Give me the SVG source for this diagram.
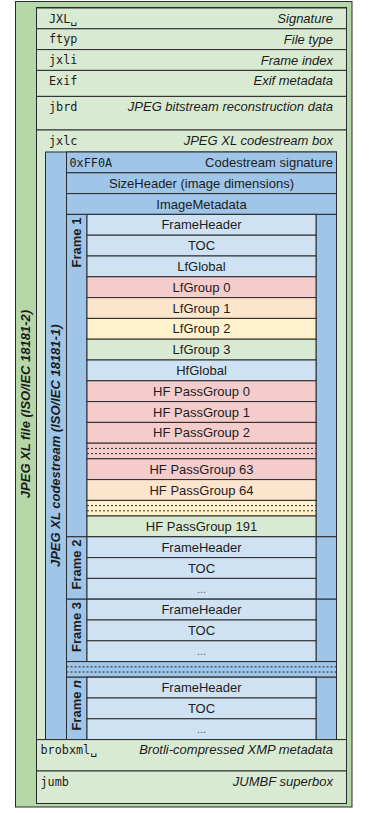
<svg xmlns="http://www.w3.org/2000/svg" width="374" height="814" viewBox="0 0 374 814">
<style>
.ln{stroke:#2a2a2a;stroke-width:1}
.g2{fill:#b6d7a8}
.g3{fill:#d9ead3}
.b2{fill:#9fc5e8}
.b3{fill:#cfe2f3}
.r3{fill:#f4cccc}
.o3{fill:#fce5cd}
.y3{fill:#fff2cc}
.dot{stroke:#2a2a2a;stroke-width:1;stroke-dasharray:2,2;fill:none}
text{fill:#1c1c1c}
.m{font-family:"DejaVu Sans Mono","Liberation Mono",monospace;font-size:11.8px}
.i{font-family:"Liberation Sans",Arial,sans-serif;font-size:13px;font-style:italic;text-anchor:end}
.c{font-family:"Liberation Sans",Arial,sans-serif;font-size:13px;text-anchor:middle}
.r{font-family:"Liberation Sans",Arial,sans-serif;font-size:13px;text-anchor:end}
.bi{font-family:"Liberation Sans",Arial,sans-serif;font-size:13px;font-weight:bold;font-style:italic;text-anchor:middle}
.fl{font-family:"Liberation Sans",Arial,sans-serif;font-size:13px;font-weight:bold;text-anchor:end}
.dd{font-family:"Liberation Sans",Arial,sans-serif;font-size:11px;text-anchor:middle;fill:#555}
</style>
<g id="file">
<rect class="g2 ln" x="15.5" y="1.5" width="336.5" height="805.5"/>
<rect class="g3 ln" x="36.5" y="7.5" width="310" height="796"/>
<text class="bi" transform="translate(30.2,404) rotate(-90)">JPEG XL file (ISO/IEC 18181-2)</text>
</g>
<g id="box-jxl">
<rect class="g3 ln" x="36.5" y="8" width="310" height="20.8"/>
<text class="m" x="49" y="22.5">JXL␣</text>
<text class="i" x="333" y="23">Signature</text>
</g>
<g id="box-ftyp">
<rect class="g3 ln" x="36.5" y="28.8" width="310" height="20.8"/>
<text class="m" x="49" y="43.3">ftyp</text>
<text class="i" x="333" y="43.8">File type</text>
</g>
<g id="box-jxli">
<rect class="g3 ln" x="36.5" y="49.6" width="310" height="20.8"/>
<text class="m" x="49" y="64.1">jxli</text>
<text class="i" x="333" y="64.6">Frame index</text>
</g>
<g id="box-exif">
<rect class="g3 ln" x="36.5" y="70.4" width="310" height="26"/>
<text class="m" x="49" y="84.9">Exif</text>
<text class="i" x="333" y="85.4">Exif metadata</text>
</g>
<g id="box-jbrd">
<rect class="g3 ln" x="36.5" y="96.4" width="310" height="33.6"/>
<text class="m" x="49" y="110.9">jbrd</text>
<text class="i" x="333" y="111.4">JPEG bitstream reconstruction data</text>
</g>
<g id="box-jxlc">
<rect class="g3 ln" x="36.5" y="130" width="310" height="609.6"/>
<text class="m" x="49" y="144.5">jxlc</text>
<text class="i" x="333" y="145">JPEG XL codestream box</text>
</g>
<g id="codestream">
<rect class="b2 ln" x="45.5" y="152" width="291" height="587.6"/>
<text class="bi" transform="translate(60.2,445.8) rotate(-90)">JPEG XL codestream (ISO/IEC 18181-1)</text>
</g>
<g id="cs-signature">
<rect class="b2 ln" x="66.5" y="152" width="270" height="20.8"/>
<text class="m" x="69.5" y="166.7">0xFF0A</text>
<text class="r" x="333" y="167">Codestream signature</text>
</g>
<g id="size-header">
<rect class="b2 ln" x="66.5" y="172.8" width="270" height="20.8"/>
<text class="c" x="201.5" y="187.8">SizeHeader (image dimensions)</text>
</g>
<g id="image-metadata">
<rect class="b2 ln" x="66.5" y="193.6" width="270" height="20.8"/>
<text class="c" x="201.5" y="208.6">ImageMetadata</text>
</g>
<g id="frame-1">
<rect class="b2 ln" x="66.5" y="214.4" width="270" height="322.4"/>
<line class="ln" x1="87" y1="214.4" x2="87" y2="536.8"/>
<line class="ln" x1="316" y1="214.4" x2="316" y2="536.8"/>
<text class="fl" transform="translate(81.2,217.6) rotate(-90)">Frame 1</text>
<rect class="b3 ln" x="87" y="214.4" width="229" height="20.8"/><text class="c" x="201.5" y="229.4">FrameHeader</text>
<rect class="b3 ln" x="87" y="235.2" width="229" height="20.8"/><text class="c" x="201.5" y="250.2">TOC</text>
<rect class="b3 ln" x="87" y="256" width="229" height="20.8"/><text class="c" x="201.5" y="271">LfGlobal</text>
<rect class="r3 ln" x="87" y="276.8" width="229" height="20.8"/><text class="c" x="201.5" y="291.8">LfGroup 0</text>
<rect class="o3 ln" x="87" y="297.6" width="229" height="20.8"/><text class="c" x="201.5" y="312.6">LfGroup 1</text>
<rect class="y3 ln" x="87" y="318.4" width="229" height="20.8"/><text class="c" x="201.5" y="333.4">LfGroup 2</text>
<rect class="g3 ln" x="87" y="339.2" width="229" height="20.8"/><text class="c" x="201.5" y="354.2">LfGroup 3</text>
<rect class="b3 ln" x="87" y="360" width="229" height="20.8"/><text class="c" x="201.5" y="375">HfGlobal</text>
<rect class="r3 ln" x="87" y="380.8" width="229" height="20.8"/><text class="c" x="201.5" y="395.8">HF PassGroup 0</text>
<rect class="r3 ln" x="87" y="401.6" width="229" height="20.8"/><text class="c" x="201.5" y="416.6">HF PassGroup 1</text>
<rect class="r3 ln" x="87" y="422.4" width="229" height="20.8"/><text class="c" x="201.5" y="437.4">HF PassGroup 2</text>
<rect class="r3 ln" x="87" y="443.2" width="229" height="15.6"/>
<line class="dot" x1="87" y1="448.4" x2="316" y2="448.4"/>
<line class="dot" x1="87" y1="453.6" x2="316" y2="453.6"/>
<rect class="r3 ln" x="87" y="458.8" width="229" height="20.8"/><text class="c" x="201.5" y="473.8">HF PassGroup 63</text>
<rect class="o3 ln" x="87" y="479.6" width="229" height="20.8"/><text class="c" x="201.5" y="494.6">HF PassGroup 64</text>
<rect class="y3 ln" x="87" y="500.4" width="229" height="15.6"/>
<line class="dot" x1="87" y1="505.6" x2="316" y2="505.6"/>
<line class="dot" x1="87" y1="510.8" x2="316" y2="510.8"/>
<rect class="g3 ln" x="87" y="516" width="229" height="20.8"/><text class="c" x="201.5" y="531">HF PassGroup 191</text>
</g>
<g id="frame-2">
<rect class="b2 ln" x="66.5" y="536.8" width="270" height="62.4"/>
<line class="ln" x1="87" y1="536.8" x2="87" y2="599.2"/>
<line class="ln" x1="316" y1="536.8" x2="316" y2="599.2"/>
<text class="fl" transform="translate(81.2,539.6) rotate(-90)">Frame 2</text>
<rect class="b3 ln" x="87" y="536.8" width="229" height="20.8"/><text class="c" x="201.5" y="551.8">FrameHeader</text>
<rect class="b3 ln" x="87" y="557.6" width="229" height="20.8"/><text class="c" x="201.5" y="572.6">TOC</text>
<rect class="b3 ln" x="87" y="578.4" width="229" height="20.8"/><text class="dd" x="201.5" y="593">...</text>
</g>
<g id="frame-3">
<rect class="b2 ln" x="66.5" y="599.2" width="270" height="62.4"/>
<line class="ln" x1="87" y1="599.2" x2="87" y2="661.6"/>
<line class="ln" x1="316" y1="599.2" x2="316" y2="661.6"/>
<text class="fl" transform="translate(81.2,602) rotate(-90)">Frame 3</text>
<rect class="b3 ln" x="87" y="599.2" width="229" height="20.8"/><text class="c" x="201.5" y="614.2">FrameHeader</text>
<rect class="b3 ln" x="87" y="620" width="229" height="20.8"/><text class="c" x="201.5" y="635">TOC</text>
<rect class="b3 ln" x="87" y="640.8" width="229" height="20.8"/><text class="dd" x="201.5" y="655.4">...</text>
</g>
<g id="frames-gap">
<rect class="b2 ln" x="66.5" y="661.6" width="270" height="15.6"/>
<line class="dot" x1="66.5" y1="666.8" x2="336.5" y2="666.8"/>
<line class="dot" x1="66.5" y1="672" x2="336.5" y2="672"/>
</g>
<g id="frame-n">
<rect class="b2 ln" x="66.5" y="677.2" width="270" height="62.4"/>
<line class="ln" x1="87" y1="677.2" x2="87" y2="739.6"/>
<line class="ln" x1="316" y1="677.2" x2="316" y2="739.6"/>
<text class="fl" transform="translate(81.2,680) rotate(-90)">Frame <tspan font-style="italic">n</tspan></text>
<rect class="b3 ln" x="87" y="677.2" width="229" height="20.8"/><text class="c" x="201.5" y="692.2">FrameHeader</text>
<rect class="b3 ln" x="87" y="698" width="229" height="20.8"/><text class="c" x="201.5" y="713">TOC</text>
<rect class="b3 ln" x="87" y="718.8" width="229" height="20.8"/><text class="dd" x="201.5" y="733.4">...</text>
</g>
<g id="box-brobxml">
<rect class="g3 ln" x="36.5" y="739.6" width="310" height="31.4"/>
<text class="m" x="40.5" y="754">brobxml␣</text>
<text class="i" x="333" y="754.4">Brotli-compressed XMP metadata</text>
</g>
<g id="box-jumb">
<rect class="g3 ln" x="36.5" y="771" width="310" height="32.5"/>
<text class="m" x="40.5" y="785.5">jumb</text>
<text class="i" x="333" y="786">JUMBF superbox</text>
</g>
<g id="connectors"/>
</svg>
